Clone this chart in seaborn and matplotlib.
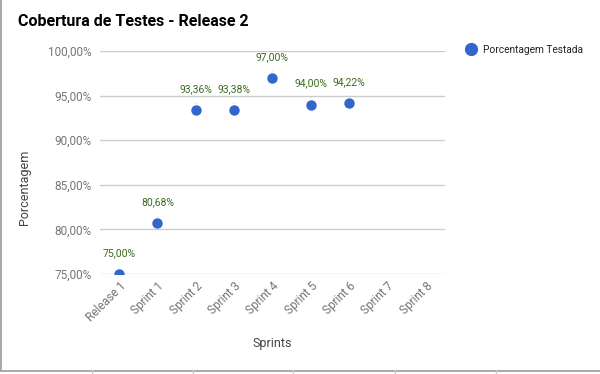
import numpy as np
import pandas as pd
import matplotlib
matplotlib.use("Agg")
import matplotlib.pyplot as plt
from matplotlib.lines import Line2D
import seaborn as sns

# ─── Data ─────────────────────────────────────────────────────────────────────
sprints = ["Release 1", "Sprint 1", "Sprint 2", "Sprint 3", "Sprint 4",
           "Sprint 5", "Sprint 6", "Sprint 7", "Sprint 8"]
coverage = [75.00, 80.68, 93.36, 93.38, 97.00, 94.00, 94.22, np.nan, np.nan]
y_ticks = [75, 80, 85, 90, 95, 100]
series_name = "Porcentagem Testada"

BLUE = "#3366cc"
GREEN = "#3d6b1e"
GRAY = "#757575"

sns.set_style("white")
plt.rcParams["font.family"] = ["Roboto", "DejaVu Sans"]

df = pd.DataFrame({"sprint": sprints, "pct": coverage})

W, H = 600, 374
fig = plt.figure(figsize=(W / 100, H / 100), dpi=100)
ax = fig.add_axes([100 / W, 1 - 274 / H, 345 / W, 223 / H])

sns.stripplot(data=df, x="sprint", y="pct", order=sprints, jitter=False,
              color=BLUE, size=7.5, linewidth=0, ax=ax, zorder=3)
# points sitting on the bottom edge get cut in half, like the reference
for coll in ax.collections:
    coll.set_clip_on(True)
    coll.set_clip_path(ax.patch)

ax.set_xlim(-0.5, len(sprints) - 0.5)
ax.set_ylim(75, 100)
ax.set_yticks(y_ticks)
ax.set_yticklabels([f"{v:.2f}%".replace(".", ",") for v in y_ticks])
ax.yaxis.grid(True, color="#cccccc", linewidth=1)
ax.xaxis.grid(False)
for s in ax.spines.values():
    s.set_visible(False)
ax.tick_params(axis="y", length=0, pad=6, labelsize=8.5, labelcolor=GRAY)
ax.tick_params(axis="x", length=0, pad=4, labelsize=8.5, labelcolor=GRAY)
for lab in ax.get_xticklabels():
    lab.set_rotation(45)
    lab.set_ha("right")
    lab.set_rotation_mode("anchor")
ax.set_xlabel("")
ax.set_ylabel("")

# data labels with leader lines
for i, v in enumerate(coverage):
    if np.isnan(v):
        continue
    ax.annotate(f"{v:.2f}%".replace(".", ","), xy=(i, v), xytext=(0, 15),
                textcoords="offset points", ha="center", va="center",
                fontsize=7.5, color=GREEN, annotation_clip=False,
                arrowprops=dict(arrowstyle="-", color="#dddddd", lw=1,
                                shrinkA=4, shrinkB=5))

# titles / axis labels
fig.text(18 / W, 1 - 22 / H, "Cobertura de Testes - Release 2",
         fontsize=11.5, fontweight="bold", color="black", va="center")
fig.text(25 / W, 1 - 187 / H, "Porcentagem", rotation=90, fontsize=9,
         color="#444444", ha="center", va="center")
fig.text(272 / W, 1 - 344 / H, "Sprints", fontsize=9, color="#444444",
         ha="center", va="center")

# legend
ax.legend(handles=[Line2D([], [], marker="o", linestyle="", color=BLUE,
                          markersize=8.5, label=series_name)],
          loc="center left", bbox_to_anchor=(457 / W, 1 - 50 / H),
          bbox_transform=fig.transFigure, frameon=False, fontsize=7.3,
          handletextpad=0.2, borderaxespad=0, labelcolor="#222222")

# sheet cell border
fig.add_artist(Line2D([1 / W, 1 / W], [1 - 370 / H, 1], color="#999999", lw=1.2))
fig.add_artist(Line2D([0, 1], [1 - 370.5 / H] * 2, color="#999999", lw=1.2))
for x in [92, 193, 293, 395, 496]:
    fig.add_artist(Line2D([x / W] * 2, [0, 1 - 370 / H], color="#cccccc", lw=1))

fig.savefig("out.png", dpi=100)
